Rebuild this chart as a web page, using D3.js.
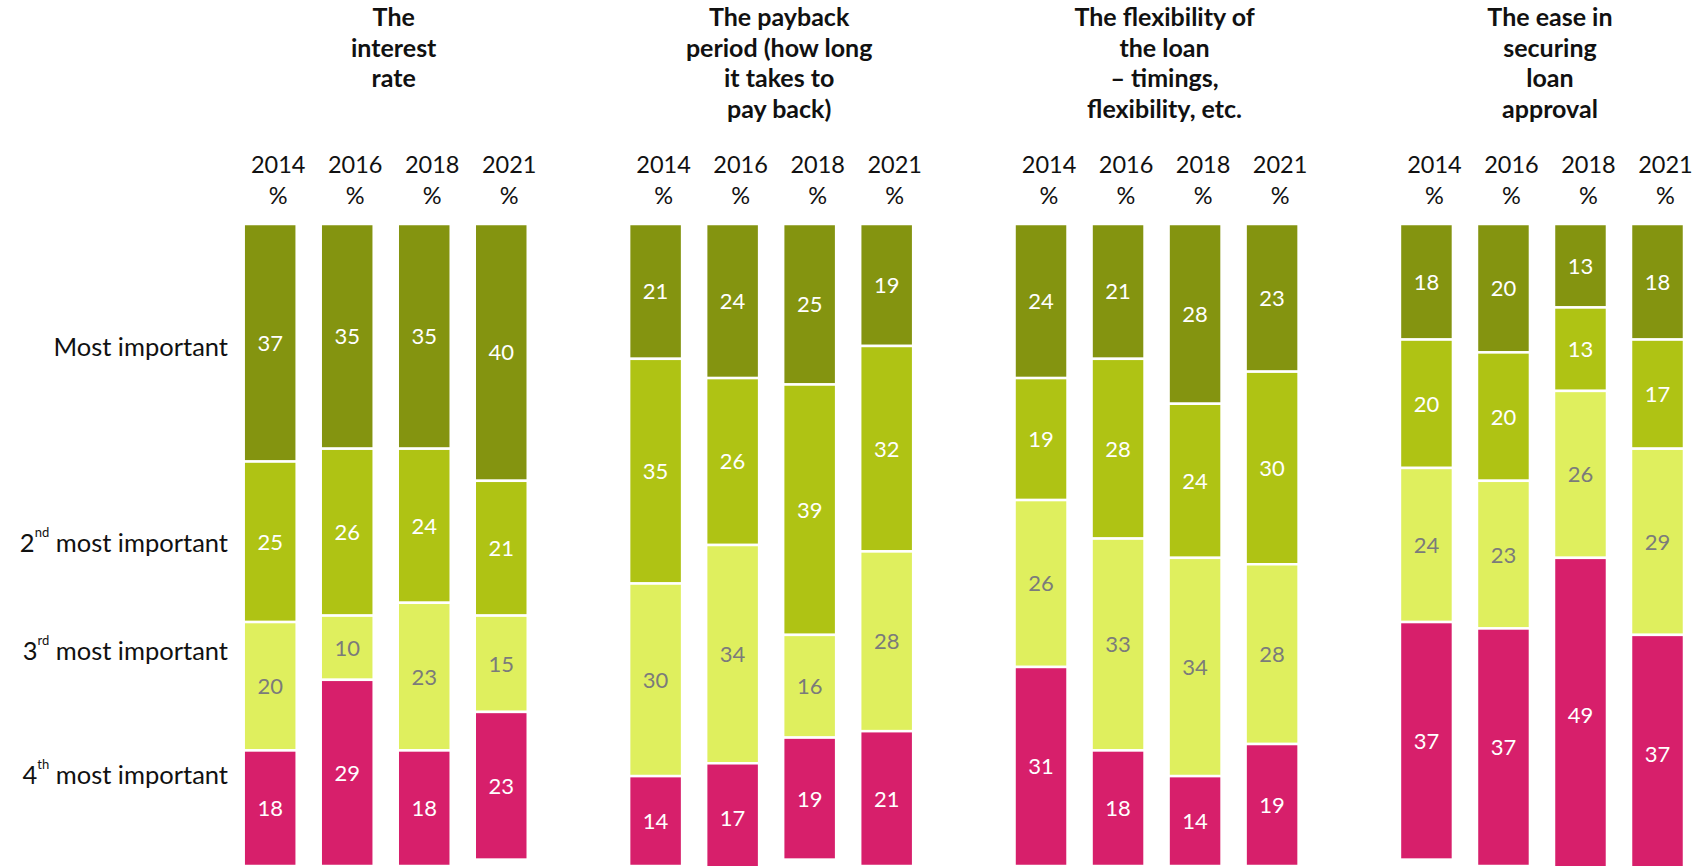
<!DOCTYPE html>
<html>
<head>
<meta charset="utf-8">
<script src="https://cdn.jsdelivr.net/npm/d3@7"></script>
<style>
  body { margin: 0; background: #fff; }
  svg { display: block; font-family: Lato, "Open Sans", sans-serif; }
</style>
</head>
<body>
<svg></svg>
<script>
const width = 1698;
const height = 866;

// data
const categories = ['interest', 'payback', 'flexibility', 'ease'];
const categoryTitles = [
    ['The', 'interest', 'rate'],
    ['The payback', 'period (how long', 'it takes to', 'pay back)'],
    ['The flexibility of', 'the loan', '\u2013 timings,', 'flexibility, etc.'],
    ['The ease in', 'securing', 'loan', 'approval']
];
const years = ['2014', '2016', '2018', '2021'];
const keys = ['most', 'second', 'third', 'fourth'];

// one array per importance level, one row per category, values by year
const mostImportant = [[37, 35, 35, 40], [21, 24, 25, 19], [24, 21, 28, 23], [18, 20, 13, 18]];
const secondMost    = [[25, 26, 24, 21], [35, 26, 39, 32], [19, 28, 24, 30], [20, 20, 13, 17]];
const thirdMost     = [[20, 10, 23, 15], [30, 34, 16, 28], [26, 33, 34, 28], [24, 23, 26, 29]];
const fourthMost    = [[18, 29, 18, 23], [14, 17, 19, 21], [31, 18, 14, 19], [37, 37, 49, 37]];

// row labels: [number, superscript, rest], placed at a % position on the y scale
const rowLabels = [['', '', 'Most important'], ['2', 'nd', ' most important'], ['3', 'rd', ' most important'], ['4', 'th', ' most important']];
const rowLabelPos = [20.5, 51.1, 67.9, 87.3];

const color = d3.scaleOrdinal()
    .domain(keys)
    .range(['#849410', '#afc314', '#dfef5e', '#d71f6b']);
const labelColor = d3.scaleOrdinal()
    .domain(keys)
    .range(['#ffffff', '#ffffff', '#7b7b7b', '#ffffff']);

const svg = d3.select('svg')
    .attr('width', width)
    .attr('height', height);

const x0 = d3.scaleBand()
    .domain(categories)
    .range([243.7, 1684])
    .paddingInner(0.263);

const x1 = d3.scaleBand()
    .domain(years)
    .range([0, x0.bandwidth()])
    .paddingInner(0.312);

const y = d3.scaleLinear()
    .domain([0, 100])
    .range([224, 866]);

const stack = d3.stack().keys(keys);
const headOffset = 8;

categories.forEach(function(cat, i) {
    const rows = years.map(function(yr, j) {
        return { year: yr, most: mostImportant[i][j], second: secondMost[i][j], third: thirdMost[i][j], fourth: fourthMost[i][j] };
    });
    const series = stack(rows);

    const g = svg.append('g')
        .attr('transform', `translate(${x0(cat)},0)`);

    // title
    g.append('text')
        .attr('text-anchor', 'middle')
        .attr('font-weight', 'bold')
        .attr('font-size', 25)
        .attr('fill', '#111')
        .selectAll('tspan')
        .data(categoryTitles[i])
        .enter().append('tspan')
        .attr('x', x0.bandwidth() / 2 + headOffset)
        .attr('y', function(d, k) { return 26 + k * 30.5 })
        .text(function(d) { return d });

    // year headers
    const head = g.selectAll('.head')
        .data(years)
        .enter().append('text')
        .attr('class', 'head')
        .attr('text-anchor', 'middle')
        .attr('font-size', 23.5)
        .attr('fill', '#111');
    head.append('tspan')
        .attr('x', function(d) { return x1(d) + x1.bandwidth() / 2 + headOffset })
        .attr('y', 173)
        .text(function(d) { return d });
    head.append('tspan')
        .attr('x', function(d) { return x1(d) + x1.bandwidth() / 2 + headOffset })
        .attr('y', 204)
        .text('%');

    const layer = g.selectAll('.layer')
        .data(series)
        .enter().append('g')
        .attr('class', 'layer');

    layer.selectAll('rect')
        .data(function(s) { return s.map(function(d) { d.key = s.key; return d }) })
        .enter().append('rect')
        .attr('x', function(d) { return x1(d.data.year) })
        .attr('width', x1.bandwidth())
        .attr('y', function(d) { return y(d[0]) })
        .attr('height', function(d) { return y(d[1]) - y(d[0]) })
        .attr('fill', function(d) { return color(d.key) })
        .attr('stroke', '#fff')
        .attr('stroke-width', 2.5);

    layer.selectAll('text')
        .data(function(s) { return s })
        .enter().append('text')
        .attr('x', function(d) { return x1(d.data.year) + x1.bandwidth() / 2 })
        .attr('y', function(d) { return y((d[0] + d[1]) / 2) })
        .attr('dy', '0.36em')
        .attr('text-anchor', 'middle')
        .attr('font-size', 22)
        .attr('fill', function(d) { return labelColor(d.key) })
        .text(function(d) { return d[1] - d[0] });
});

// row labels
const rl = svg.selectAll('.rowlabel')
    .data(rowLabels)
    .enter().append('text')
    .attr('class', 'rowlabel')
    .attr('x', 228)
    .attr('y', function(d, i) { return y(rowLabelPos[i]) })
    .attr('text-anchor', 'end')
    .attr('font-size', 25.5)
    .attr('fill', '#111');
rl.append('tspan').text(function(d) { return d[0] });
rl.append('tspan')
    .attr('font-size', 13)
    .attr('dy', function(d) { return d[1] ? -15 : 0 })
    .text(function(d) { return d[1] });
rl.append('tspan')
    .attr('dy', function(d) { return d[1] ? 15 : 0 })
    .text(function(d) { return d[2] });
</script>
</body>
</html>
